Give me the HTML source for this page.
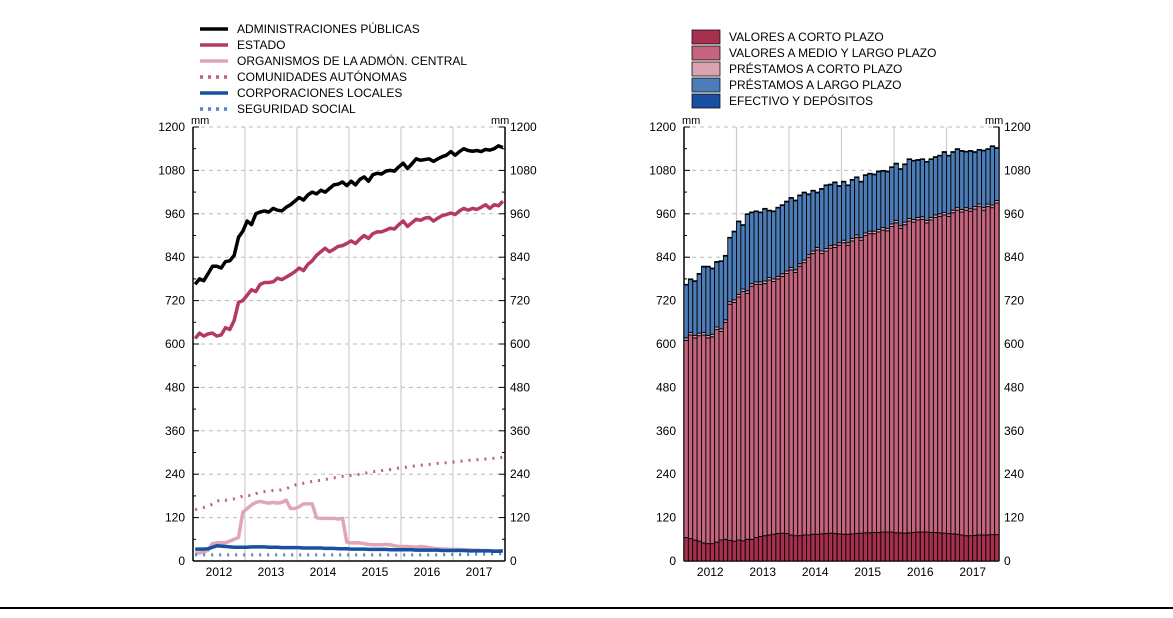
<!DOCTYPE html>
<html><head><meta charset="utf-8"><style>
body{margin:0;background:#fff;width:1173px;height:613px;overflow:hidden}
svg{font-family:"Liberation Sans",sans-serif}
</style></head><body>
<svg id="s" width="1173" height="613"></svg>
<script>
const years=["2012","2013","2014","2015","2016","2017"];
const yTicks=[0,120,240,360,480,600,720,840,960,1080,1200];
const aapp=[765,780,775,795,815,815,810,828,830,845,895,912,940,930,960,965,968,965,975,970,968,978,985,995,1005,998,1012,1020,1015,1025,1020,1030,1040,1042,1048,1038,1050,1040,1055,1062,1050,1068,1072,1070,1078,1080,1078,1090,1100,1085,1098,1112,1108,1110,1112,1105,1112,1118,1122,1132,1122,1132,1140,1135,1133,1135,1132,1138,1136,1140,1148,1143];
const estado=[615,630,622,628,630,622,625,645,640,665,715,720,735,750,745,765,770,770,772,782,778,785,792,800,810,803,820,830,845,855,865,855,862,870,872,878,885,878,890,900,892,905,910,910,915,920,918,930,940,925,935,945,942,948,950,940,948,955,958,962,958,968,975,970,975,972,978,985,975,985,982,995];
const organismos=[22,22,25,30,48,50,50,50,55,60,65,135,145,155,162,165,162,160,162,160,162,168,145,145,150,158,158,158,120,118,118,118,118,116,118,52,50,50,50,48,46,45,45,45,46,45,42,40,40,40,39,38,40,39,37,35,34,33,33,32,32,32,31,31,30,30,29,29,28,28,28,28];
const ccaa=[142,145,148,152,157,165,170,168,170,172,175,180,182,180,186,190,192,193,195,195,197,200,205,210,212,215,218,220,222,223,225,228,230,232,234,235,237,238,240,242,245,247,248,250,252,253,255,257,258,260,262,263,265,266,267,268,270,270,272,273,274,275,277,278,279,280,281,282,283,284,285,287];
const ccll=[33,33,33,34,38,42,41,40,39,38,38,38,38,39,39,39,39,38,38,38,37,37,37,37,37,36,36,36,36,36,35,35,35,34,34,34,33,33,33,33,32,32,32,32,32,31,31,31,31,31,31,30,30,30,30,30,30,29,29,29,29,29,29,28,28,28,28,28,28,27,27,28];
const segsoc=[17,17,17,17,17,17,17,17,17,17,17,17,17,17,17,17,17,17,17,17,17,17,17,17,17,17,17,17,17,17,17,17,17,17,17,17,17,17,17,17,17,17,17,17,17,17,17,17,17,17,17,17,17,17,17,17,17,17,18,18,18,18,18,18,19,19,19,19,19,20,20,20];
const vcp=[65,62,58,55,50,48,48,52,58,60,57,55,58,56,60,60,65,68,70,72,74,76,77,76,72,70,70,72,72,74,74,75,76,77,76,75,74,74,75,76,77,78,78,79,79,80,80,80,78,78,77,78,79,80,80,80,79,79,78,77,76,75,74,72,70,70,71,72,72,72,73,73];
const vmlp=[545,563,559,568,575,569,572,588,577,600,653,660,672,689,680,700,700,697,697,705,699,704,710,719,733,728,745,753,768,776,786,775,781,788,791,798,806,799,810,819,810,822,827,826,831,835,833,845,857,842,853,862,858,863,865,855,864,871,875,880,877,888,896,893,900,897,902,908,898,908,904,917];
const pcp=[7,7,7,7,7,7,7,7,7,7,7,7,7,7,7,7,7,7,7,7,7,7,7,7,7,7,7,7,7,7,7,7,7,7,7,7,7,7,7,7,7,7,7,7,7,7,7,7,7,7,7,7,7,7,7,7,7,7,7,7,7,7,7,7,7,7,7,7,7,7,7,7];
const plp=[146,146,149,163,181,189,181,179,186,176,176,188,201,176,211,196,194,191,199,184,186,189,189,191,191,191,188,186,166,166,151,171,174,168,172,156,161,158,161,158,154,159,158,156,159,156,156,156,156,156,159,163,162,158,158,161,160,159,160,166,160,160,161,161,154,159,150,149,157,151,162,144];
const efectivo=[2,2,2,2,2,2,2,2,2,2,2,2,2,2,2,2,2,2,2,2,2,2,2,2,2,2,2,2,2,2,2,2,2,2,2,2,2,2,2,2,2,2,2,2,2,2,2,2,2,2,2,2,2,2,2,2,2,2,2,2,2,2,2,2,2,2,2,2,2,2,2,2];

const NS="http://www.w3.org/2000/svg",svg=document.getElementById('s');
function mk(t,a,p){const e=document.createElementNS(NS,t);for(const k in a)e.setAttribute(k,a[k]);(p||svg).appendChild(e);return e;}
const Y0=561,Y1=127;
function ys(v){return Y0-(v/1200)*(Y0-Y1);}
function axes(x0,x1,name){
  const g=mk('g',{});
  
  
  const n=years.length,w=(x1-x0)/n;
  yTicks.forEach(t=>{const y=ys(t);
    if(t>0)mk('line',{x1:x0,x2:x1,y1:y,y2:y,stroke:'#bbb','stroke-dasharray':'4,4','stroke-width':1},g);
    mk('line',{x1:x0,x2:x0+6,y1:y,y2:y,stroke:'#000'},g);mk('line',{x1:x1-6,x2:x1,y1:y,y2:y,stroke:'#000'},g);
    if(t<1200){const ym=ys(t+60);mk('line',{x1:x0,x2:x0+3,y1:ym,y2:ym,stroke:'#000'},g);mk('line',{x1:x1-3,x2:x1,y1:ym,y2:ym,stroke:'#000'},g);}
    const a=mk('text',{x:x0-8,y:y+4,'text-anchor':'end','font-size':12},g);a.textContent=t;
    
    const b=mk('text',{x:x1+5,y:y+4,'font-size':12},g);b.textContent=t;
    
  });
  years.forEach((yr,i)=>{const x=x0+i*w;
    if(i>0)mk('line',{x1:x,x2:x,y1:Y1,y2:Y0,stroke:'#ccc','stroke-width':1.2},g);
    const t=mk('text',{x:x+w/2,y:Y0+15,'text-anchor':'middle','font-size':12},g);t.textContent=yr;
    
  });
  mk('line',{x1:x0,x2:x0,y1:Y1,y2:Y0,stroke:'#000','stroke-width':1.5},g);
  mk('line',{x1:x1,x2:x1,y1:Y1,y2:Y0,stroke:'#000','stroke-width':1.5},g);
  mk('line',{x1:x0,x2:x1,y1:Y0,y2:Y0,stroke:'#000','stroke-width':1.5},g);
  let m=mk('text',{x:x0-2,y:Y1-3,'font-size':11},g);m.textContent='mm';
  m=mk('text',{x:x1-14,y:Y1-3,'font-size':11},g);m.textContent='mm';
}
const LX0=193,LX1=505,lw=(LX1-LX0)/72;
function lx(i){return LX0+(i+0.5)*lw;}
axes(LX0,LX1,'left-chart');
const series=[[organismos,'#e0a6b8',3.5,null,'organismos-line'],[ccaa,'#c0607a',3,'2,6','ccaa-line'],[segsoc,'#5a82c0',3,'2,6','seguridad-social-line'],[ccll,'#1750a0',3.5,null,'ccll-line'],[estado,'#b53a60',3.5,null,'estado-line'],[aapp,'#000',3.5,null,'aapp-line']];
series.forEach(s=>{const p=mk('polyline',{points:s[0].map((v,i)=>lx(i)+','+ys(v)).join(' '),fill:'none',stroke:s[1],'stroke-width':s[2],'stroke-linejoin':'round'});
  if(s[3])p.setAttribute('stroke-dasharray',s[3]);
  });
const leg1=[['ADMINISTRACIONES PÚBLICAS','#000',null],['ESTADO','#b53a60',null],['ORGANISMOS DE LA ADMÓN. CENTRAL','#e0a6b8',null],['COMUNIDADES AUTÓNOMAS','#c0607a','3,5'],['CORPORACIONES LOCALES','#1750a0',null],['SEGURIDAD SOCIAL','#5a82c0','3,5']];
leg1.forEach((l,i)=>{const y=29+i*16;const g=mk('g',{});
  
  const ln=mk('line',{x1:200,x2:228,y1:y,y2:y,stroke:l[1],'stroke-width':3.5},g);if(l[2])ln.setAttribute('stroke-dasharray',l[2]);
  const t=mk('text',{x:237,y:y+4,'font-size':12},g);t.textContent=l[0];});
const RX0=684,RX1=999,rw=(RX1-RX0)/72;
axes(RX0,RX1,'right-chart');
const stacks=[[vcp,'#a8304f'],[vmlp,'#c4647e'],[pcp,'#dca2b2'],[plp,'#4d7db8'],[efectivo,'#1750a0']];
for(let i=0;i<72;i++){let c=0;
  stacks.forEach(s=>{const v=s[0][i];const r=mk('rect',{x:RX0+i*rw,y:ys(c+v),width:rw,height:ys(c)-ys(c+v),fill:s[1],stroke:'#000','stroke-width':0.9});
    c+=v;});
}
const leg2=[['VALORES A CORTO PLAZO','#a8304f'],['VALORES A MEDIO Y LARGO PLAZO','#c4647e'],['PRÉSTAMOS A CORTO PLAZO','#dca2b2'],['PRÉSTAMOS A LARGO PLAZO','#4d7db8'],['EFECTIVO Y DEPÓSITOS','#1750a0']];
leg2.forEach((l,i)=>{const y=37+i*16;const g=mk('g',{});
  
  mk('rect',{x:692,y:y-7,width:28,height:14,fill:l[1],stroke:'#111','stroke-width':0.8},g);
  const t=mk('text',{x:729,y:y+4,'font-size':12},g);t.textContent=l[0];});
const bl=mk('line',{x1:0,x2:1173,y1:608,y2:608,stroke:'#000','stroke-width':2});

</script>
</body></html>
